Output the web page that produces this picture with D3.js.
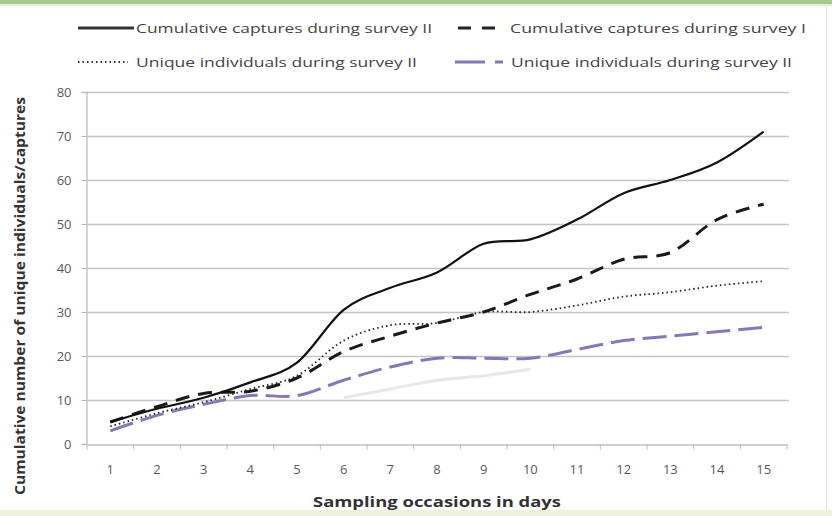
<!DOCTYPE html>
<html>
<head>
<meta charset="utf-8">
<script src="https://cdn.jsdelivr.net/npm/d3@7"></script>
<style>
  html, body { margin: 0; padding: 0; background: #ffffff; }
  svg { display: block; }
</style>
</head>
<body>
<svg id="chart" width="832" height="516"></svg>
<script>
// Sampling occasions (days)
const days = [1, 2, 3, 4, 5, 6, 7, 8, 9, 10, 11, 12, 13, 14, 15];

// Cumulative counts per day
const capturesSurveyII = [5, 8, 10.5, 14, 18.5, 30.5, 35.5, 39, 45.5, 46.5, 51, 57, 60, 64, 71];
const capturesSurveyI  = [5, 8.5, 11.5, 12, 15, 21, 24.5, 27.5, 30, 34, 37.5, 42, 43.5, 51, 54.5];
const uniqueSurveyII   = [4, 7, 9.5, 12.5, 15.5, 23.5, 27, 27.5, 30, 30, 31.5, 33.5, 34.5, 36, 37];
const uniqueSurveyI    = [3, 6.5, 9, 11, 11, 14.5, 17.5, 19.5, 19.5, 19.5, 21.5, 23.5, 24.5, 25.5, 26.5];
// faint residual trace (no legend entry)
const faintTrace       = [null, null, null, null, null, 10.5, 12.5, 14.5, 15.5, 17, null, null, null, null, null];

const yTicks = [0, 10, 20, 30, 40, 50, 60, 70, 80];

const legendLabels = [
  "Cumulative captures during survey II",
  "Cumulative captures during survey I",
  "Unique individuals during survey II",
  "Unique individuals during survey II"
];

const svg = d3.select("#chart");
const W = 832, H = 516;

// frame decoration
svg.append("rect").attr("x", 0).attr("y", 0).attr("width", W).attr("height", H).attr("fill", "#ffffff");
svg.append("rect").attr("x", 0).attr("y", 0).attr("width", W).attr("height", 4).attr("fill", "#a6c78f");
svg.append("rect").attr("x", 0).attr("y", 4).attr("width", W).attr("height", 2).attr("fill", "#e4efd9");
svg.append("rect").attr("x", 0).attr("y", 510).attr("width", W).attr("height", 6).attr("fill", "#eef1dd");
svg.append("line").attr("x1", 826.5).attr("x2", 826.5).attr("y1", 6).attr("y2", 510)
  .attr("stroke", "#e2e2e2").attr("stroke-width", 1);

const plotLeft = 87, plotRight = 787, plotTop = 92, plotBottom = 444;

const x = d3.scaleBand().domain(days).range([plotLeft, plotRight]).paddingInner(0).paddingOuter(0);
const cx = d => x(d) + x.bandwidth() / 2;
const y = d3.scaleLinear().domain([0, 80]).range([plotBottom, plotTop]);

// horizontal gridlines
svg.append("g").selectAll("line")
  .data(yTicks.filter(t => t > 0))
  .join("line")
  .attr("x1", plotLeft).attr("x2", plotRight + 2)
  .attr("y1", d => Math.round(y(d)) + 0.5).attr("y2", d => Math.round(y(d)) + 0.5)
  .attr("stroke", "#c4c4c4").attr("stroke-width", 1.3);

// y axis
const yAxis = svg.append("g")
  .attr("transform", `translate(${plotLeft - 0.5},0)`)
  .call(d3.axisLeft(y).tickValues(yTicks).tickSize(5).tickPadding(10));
yAxis.select(".domain").attr("stroke", "#bdbdbd").attr("stroke-width", 1.3);
yAxis.selectAll(".tick line").attr("stroke", "#bdbdbd");
yAxis.selectAll(".tick text")
  .attr("font-family", "'Open Sans', 'DejaVu Sans', sans-serif")
  .attr("font-size", 13).attr("fill", "#5a5a5a");

// x axis
const xAxis = svg.append("g")
  .attr("transform", `translate(0,${Math.round(plotBottom) + 0.5})`)
  .call(d3.axisBottom(x).tickSize(0).tickPadding(20));
xAxis.select(".domain").attr("stroke", "#bdbdbd").attr("stroke-width", 1.3);
xAxis.selectAll(".tick text")
  .attr("font-family", "'Open Sans', 'DejaVu Sans', sans-serif")
  .attr("font-size", 13).attr("fill", "#5a5a5a");
// category boundary ticks
xAxis.append("g").selectAll("line")
  .data(days.concat([days.length + 1]))
  .join("line")
  .attr("x1", (d, i) => plotLeft + i * x.bandwidth())
  .attr("x2", (d, i) => plotLeft + i * x.bandwidth())
  .attr("y1", 0).attr("y2", 5)
  .attr("stroke", "#bdbdbd");

// axis titles
svg.append("text")
  .attr("transform", `translate(25,${(plotTop + 500) / 2}) rotate(-90)`)
  .attr("text-anchor", "middle")
  .attr("font-family", "'Open Sans', 'DejaVu Sans', sans-serif")
  .attr("font-weight", "bold").attr("font-size", 13.5).attr("fill", "#333")
  .attr("textLength", 398).attr("lengthAdjust", "spacingAndGlyphs")
  .text("Cumulative number of unique individuals/captures");

svg.append("text")
  .attr("x", 437).attr("y", 507)
  .attr("text-anchor", "middle")
  .attr("font-family", "'Open Sans', 'DejaVu Sans', sans-serif")
  .attr("font-weight", "bold").attr("font-size", 15).attr("fill", "#333")
  .attr("textLength", 248).attr("lengthAdjust", "spacingAndGlyphs")
  .text("Sampling occasions in days");

// series
const series = [
  { name: "faint", values: faintTrace, color: "#e8e8e8", width: 3, dash: null },
  { name: "uI", values: uniqueSurveyI, color: "#8677b5", width: 3, dash: "24,8" },
  { name: "uII", values: uniqueSurveyII, color: "#222", width: 1.8, dash: "1.5,3" },
  { name: "cI", values: capturesSurveyI, color: "#1a1a1a", width: 3, dash: "14,9" },
  { name: "cII", values: capturesSurveyII, color: "#111", width: 2.2, dash: null }
];

const line = d3.line()
  .defined(d => d.v != null)
  .x(d => cx(d.day))
  .y(d => y(d.v))
  .curve(d3.curveCardinal.tension(0));

svg.append("g").selectAll("path")
  .data(series)
  .join("path")
  .attr("d", s => line(days.map((day, i) => ({ day, v: s.values[i] }))))
  .attr("fill", "none")
  .attr("stroke", s => s.color)
  .attr("stroke-width", s => s.width)
  .attr("stroke-dasharray", s => s.dash)
  .attr("stroke-linecap", "butt");

// legend: two columns, two rows
const legendFont = "'Open Sans', 'DejaVu Sans', sans-serif";
const lg = svg.append("g");
const items = [
  { label: legendLabels[0], sx1: 78, sx2: 134, ty: 28, tx: 136, tl: 296, stroke: "#333", width: 3, dash: null },
  { label: legendLabels[1], sx1: 458, sx2: 496, ty: 28, tx: 510, tl: 296, stroke: "#222", width: 3, dash: "13,11" },
  { label: legendLabels[2], sx1: 78, sx2: 128, ty: 62, tx: 136, tl: 281, stroke: "#333", width: 1.8, dash: "1.5,3" },
  { label: legendLabels[3], sx1: 455, sx2: 503, ty: 62, tx: 511, tl: 281, stroke: "#8677b5", width: 3, dash: "30,10" }
];
items.forEach(it => {
  lg.append("line")
    .attr("x1", it.sx1).attr("x2", it.sx2)
    .attr("y1", it.ty).attr("y2", it.ty)
    .attr("stroke", it.stroke).attr("stroke-width", it.width)
    .attr("stroke-dasharray", it.dash);
  lg.append("text")
    .attr("x", it.tx).attr("y", it.ty + 4.5)
    .attr("font-family", legendFont).attr("font-size", 12.5).attr("fill", "#444")
    .attr("textLength", it.tl).attr("lengthAdjust", "spacingAndGlyphs")
    .text(it.label);
});
</script>
</body>
</html>
